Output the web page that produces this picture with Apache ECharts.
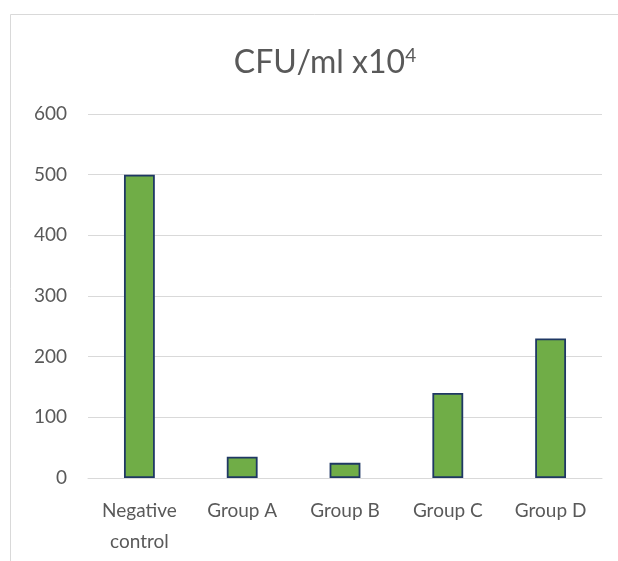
<!DOCTYPE html>
<html><head><meta charset="utf-8">
<script src="https://cdn.jsdelivr.net/npm/echarts@6/dist/echarts.min.js"></script>
<style>html,body{margin:0;padding:0;background:#fff}#c{width:618px;height:561px}</style>
</head><body><div id="c"></div>
<script>
const categories = ['Negative\ncontrol', 'Group A', 'Group B', 'Group C', 'Group D'];
const values = [500, 35, 25, 140, 230];
const yTicks = [0, 100, 200, 300, 400, 500, 600];

const chart = echarts.init(document.getElementById('c'), null, {renderer: 'canvas'});
const font = 'Lato';
chart.setOption({
  animation: false,
  backgroundColor: '#fff',
  graphic: [{
    type: 'rect', shape: {x: 10.5, y: 14.5, width: 800, height: 800},
    style: {fill: 'none', stroke: '#d9d9d9', lineWidth: 1}, silent: true
  }],
  title: {
    text: '{a|CFU/ml x10}{s|4}',
    left: 320, top: 41, textAlign: 'center',
    textStyle: {
      rich: {
        a: {fontFamily: font, fontSize: 32, fontWeight: 'normal', color: '#595959'},
        s: {fontFamily: font, fontSize: 19, fontWeight: 'normal', color: '#595959', verticalAlign: 'top', padding: [0, 0, 15, 0]}
      }
    }
  },
  grid: {left: 88, right: 16, top: 114, bottom: 83},
  xAxis: {
    type: 'category', data: categories,
    axisLine: {show: true, lineStyle: {color: '#d9d9d9', width: 1}},
    axisTick: {show: false},
    axisLabel: {color: '#595959', fontFamily: font, fontSize: 19, margin: 17, lineHeight: 31, interval: 0}
  },
  yAxis: {
    type: 'value', min: yTicks[0], max: yTicks[yTicks.length - 1], interval: 100,
    axisLine: {show: false}, axisTick: {show: false},
    splitLine: {lineStyle: {color: '#d9d9d9', width: 1}},
    axisLabel: {color: '#595959', fontFamily: font, fontSize: 19, margin: 21}
  },
  series: [{
    type: 'bar', data: values, barWidth: '30%',
    itemStyle: {color: '#70AD47', borderColor: '#1F3864', borderWidth: 1.8}
  }]
});
</script></body></html>
